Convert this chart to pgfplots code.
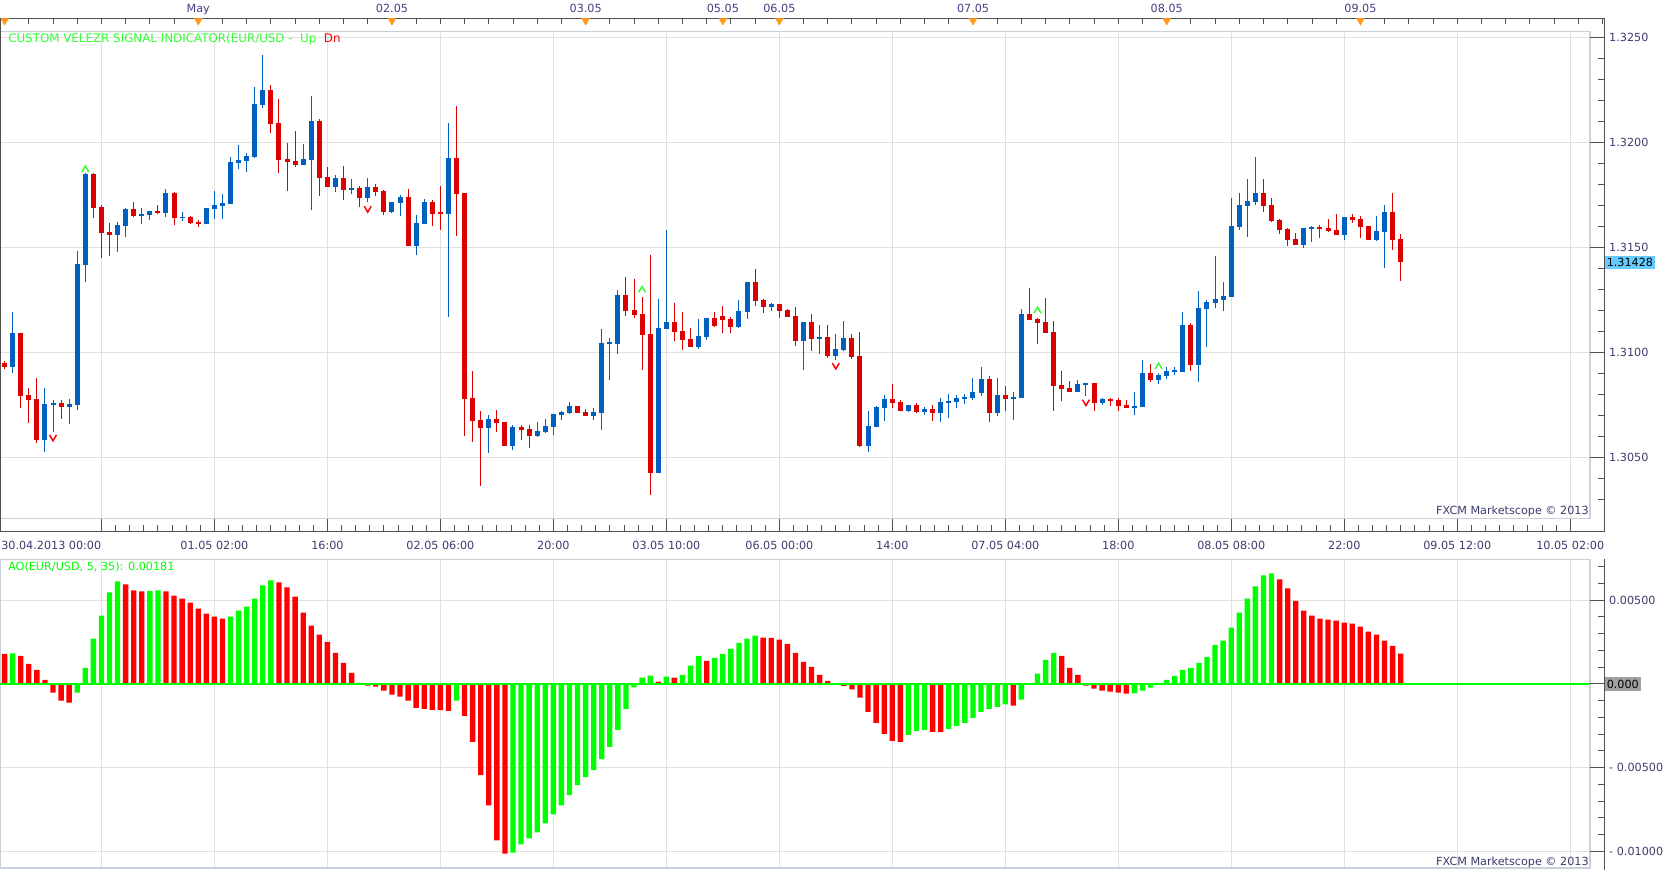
\documentclass[border=0pt]{standalone}
\usepackage{pgfplots}
\pgfplotsset{compat=1.18}
\usepackage{pgfplotstable}
\usepackage{fontspec}
\setmainfont{DejaVu Sans}
\definecolor{cblue}{HTML}{0060C0}
\definecolor{cred}{HTML}{DD0000}
\definecolor{aogreen}{HTML}{00FF00}
\definecolor{aored}{HTML}{FF0000}
\definecolor{gridc}{HTML}{E0E0E0}
\definecolor{borderc}{HTML}{C8D0DC}
\definecolor{axisc}{HTML}{505050}
\definecolor{labc}{HTML}{3C3C6E}
\definecolor{dayc}{HTML}{4B3C82}
\definecolor{orangec}{HTML}{FF9A1A}
\definecolor{pricebox}{HTML}{66CCFF}
\definecolor{zerobox}{HTML}{A0A0A0}
\definecolor{titlegreen}{HTML}{33FF33}

\pgfdeclareplotmark{chevup}{%
  \pgfpathmoveto{\pgfqpoint{-\pgfplotmarksize}{-0.7\pgfplotmarksize}}%
  \pgfpathlineto{\pgfqpoint{0pt}{\pgfplotmarksize}}%
  \pgfpathlineto{\pgfqpoint{\pgfplotmarksize}{-0.7\pgfplotmarksize}}%
  \pgfusepathqstroke}
\pgfdeclareplotmark{chevdown}{%
  \pgfpathmoveto{\pgfqpoint{-\pgfplotmarksize}{0.7\pgfplotmarksize}}%
  \pgfpathlineto{\pgfqpoint{0pt}{-\pgfplotmarksize}}%
  \pgfpathlineto{\pgfqpoint{\pgfplotmarksize}{0.7\pgfplotmarksize}}%
  \pgfusepathqstroke}

% up (blue) candles: index open high low close
\pgfplotstableread{
i o h l c
1 1.30932 1.31192 1.30903 1.31092
5 1.30584 1.30829 1.30527 1.30754
6 1.30751 1.30773 1.30622 1.30759
8 1.30741 1.30778 1.30659 1.30754
9 1.30751 1.31483 1.30725 1.31421
10 1.31416 1.31855 1.31337 1.31849
14 1.31560 1.31621 1.31479 1.31606
15 1.31603 1.31689 1.31551 1.31683
17 1.31651 1.31689 1.31613 1.31659
18 1.31656 1.31671 1.31632 1.31671
20 1.31665 1.31778 1.31646 1.31759
22 1.31639 1.31668 1.31625 1.31644
25 1.31613 1.31687 1.31613 1.31687
26 1.31684 1.31768 1.31635 1.31702
27 1.31698 1.31756 1.31635 1.31711
28 1.31708 1.31930 1.31708 1.31906
29 1.31903 1.31987 1.31875 1.31916
30 1.31913 1.31948 1.31860 1.31935
31 1.31930 1.32263 1.31925 1.32183
32 1.32179 1.32416 1.32165 1.32249
37 1.31892 1.31992 1.31892 1.31921
38 1.31917 1.32221 1.31678 1.32102
41 1.31789 1.31844 1.31763 1.31830
43 1.31775 1.31825 1.31754 1.31783
45 1.31737 1.31830 1.31716 1.31787
48 1.31668 1.31716 1.31663 1.31716
49 1.31711 1.31749 1.31649 1.31740
51 1.31506 1.31656 1.31463 1.31616
52 1.31611 1.31730 1.31611 1.31716
55 1.31659 1.32092 1.31170 1.31925
60 1.30641 1.30702 1.30522 1.30683
63 1.30556 1.30654 1.30537 1.30644
66 1.30603 1.30668 1.30598 1.30625
67 1.30622 1.30683 1.30617 1.30649
68 1.30646 1.30706 1.30606 1.30706
69 1.30703 1.30721 1.30678 1.30716
70 1.30713 1.30763 1.30708 1.30744
73 1.30698 1.30735 1.30678 1.30716
74 1.30713 1.31111 1.30630 1.31044
75 1.31040 1.31068 1.30868 1.31044
76 1.31040 1.31297 1.30992 1.31273
81 1.30427 1.31254 1.30427 1.31116
82 1.31113 1.31583 1.31113 1.31144
86 1.31027 1.31159 1.31017 1.31078
87 1.31075 1.31163 1.31060 1.31163
91 1.31121 1.31249 1.31116 1.31197
92 1.31192 1.31335 1.31159 1.31335
95 1.31216 1.31235 1.31197 1.31230
99 1.31056 1.31144 1.30916 1.31144
101 1.31065 1.31130 1.30992 1.31073
103 1.30984 1.31087 1.30963 1.31016
104 1.31013 1.31149 1.31008 1.31068
107 1.30556 1.30721 1.30527 1.30649
108 1.30644 1.30744 1.30644 1.30740
109 1.30735 1.30797 1.30673 1.30778
112 1.30721 1.30749 1.30716 1.30749
114 1.30716 1.30740 1.30702 1.30730
116 1.30711 1.30783 1.30668 1.30763
117 1.30759 1.30802 1.30687 1.30768
118 1.30763 1.30797 1.30735 1.30783
119 1.30778 1.30802 1.30754 1.30787
120 1.30783 1.30878 1.30773 1.30811
121 1.30806 1.30930 1.30792 1.30873
123 1.30711 1.30878 1.30697 1.30797
125 1.30778 1.30811 1.30678 1.30787
126 1.30783 1.31206 1.30783 1.31183
133 1.30811 1.30868 1.30811 1.30849
134 1.30844 1.30854 1.30792 1.30854
136 1.30759 1.30783 1.30749 1.30778
140 1.30735 1.30811 1.30702 1.30744
141 1.30740 1.30963 1.30740 1.30902
143 1.30870 1.30902 1.30851 1.30892
144 1.30889 1.30930 1.30875 1.30911
145 1.30908 1.30930 1.30894 1.30913
146 1.30908 1.31192 1.30908 1.31130
148 1.30941 1.31292 1.30860 1.31211
149 1.31208 1.31249 1.31027 1.31240
150 1.31237 1.31459 1.31211 1.31254
151 1.31251 1.31335 1.31197 1.31268
152 1.31263 1.31735 1.31263 1.31602
153 1.31597 1.31759 1.31583 1.31702
154 1.31697 1.31825 1.31549 1.31721
155 1.31716 1.31930 1.31702 1.31759
161 1.31511 1.31592 1.31497 1.31592
162 1.31587 1.31602 1.31525 1.31597
166 1.31559 1.31644 1.31535 1.31644
170 1.31535 1.31649 1.31530 1.31578
171 1.31573 1.31702 1.31402 1.31668
}\upc

% down (red) candles
\pgfplotstableread{
i o h l c
0 1.30951 1.30959 1.30921 1.30929
2 1.31092 1.31092 1.30737 1.30792
3 1.30797 1.30829 1.30662 1.30775
4 1.30778 1.30876 1.30570 1.30584
7 1.30759 1.30773 1.30683 1.30741
11 1.31849 1.31852 1.31641 1.31689
12 1.31692 1.31702 1.31451 1.31570
13 1.31573 1.31616 1.31460 1.31560
16 1.31683 1.31716 1.31644 1.31651
19 1.31673 1.31702 1.31657 1.31663
21 1.31759 1.31762 1.31608 1.31641
23 1.31644 1.31648 1.31613 1.31617
24 1.31622 1.31629 1.31598 1.31613
33 1.32249 1.32273 1.32044 1.32089
34 1.32092 1.32206 1.31856 1.31917
35 1.31921 1.31995 1.31770 1.31908
36 1.31911 1.32054 1.31884 1.31892
39 1.32102 1.32111 1.31744 1.31832
40 1.31835 1.31883 1.31789 1.31789
42 1.31830 1.31887 1.31725 1.31775
44 1.31783 1.31794 1.31694 1.31737
46 1.31787 1.31802 1.31744 1.31765
47 1.31768 1.31773 1.31656 1.31668
50 1.31740 1.31778 1.31506 1.31506
53 1.31716 1.31725 1.31602 1.31659
54 1.31663 1.31794 1.31583 1.31659
56 1.31925 1.32173 1.31554 1.31754
57 1.31759 1.31759 1.30603 1.30779
58 1.30783 1.30911 1.30575 1.30675
59 1.30678 1.30721 1.30365 1.30641
61 1.30683 1.30725 1.30622 1.30665
62 1.30668 1.30668 1.30556 1.30556
64 1.30644 1.30654 1.30584 1.30632
65 1.30635 1.30654 1.30546 1.30603
71 1.30744 1.30744 1.30713 1.30713
72 1.30716 1.30730 1.30698 1.30698
77 1.31273 1.31359 1.31173 1.31198
78 1.31202 1.31349 1.31163 1.31178
79 1.31183 1.31263 1.30916 1.31083
80 1.31087 1.31463 1.30321 1.30427
83 1.31144 1.31235 1.31056 1.31098
84 1.31102 1.31192 1.31013 1.31060
85 1.31063 1.31116 1.31027 1.31027
88 1.31163 1.31192 1.31121 1.31125
89 1.31173 1.31221 1.31094 1.31154
90 1.31159 1.31168 1.31094 1.31121
93 1.31335 1.31397 1.31221 1.31244
94 1.31249 1.31254 1.31187 1.31216
96 1.31230 1.31230 1.31163 1.31197
97 1.31202 1.31206 1.31168 1.31168
98 1.31173 1.31216 1.31032 1.31056
100 1.31144 1.31183 1.31008 1.31065
102 1.31073 1.31130 1.30975 1.30984
105 1.31068 1.31087 1.30970 1.30979
106 1.30983 1.31097 1.30548 1.30556
110 1.30778 1.30849 1.30735 1.30759
111 1.30763 1.30773 1.30721 1.30721
113 1.30749 1.30759 1.30711 1.30716
115 1.30730 1.30749 1.30673 1.30711
122 1.30873 1.30887 1.30668 1.30711
124 1.30797 1.30840 1.30721 1.30778
127 1.31183 1.31306 1.31154 1.31154
128 1.31159 1.31163 1.31040 1.31140
129 1.31144 1.31259 1.31092 1.31092
130 1.31097 1.31149 1.30721 1.30840
131 1.30844 1.30911 1.30768 1.30825
132 1.30830 1.30863 1.30811 1.30811
135 1.30854 1.30854 1.30721 1.30759
137 1.30778 1.30783 1.30744 1.30768
138 1.30773 1.30783 1.30721 1.30744
139 1.30749 1.30773 1.30735 1.30735
142 1.30902 1.30944 1.30860 1.30870
147 1.31130 1.31140 1.30913 1.30941
156 1.31759 1.31825 1.31668 1.31697
157 1.31702 1.31735 1.31621 1.31625
158 1.31630 1.31635 1.31563 1.31583
159 1.31587 1.31592 1.31506 1.31535
160 1.31540 1.31568 1.31511 1.31511
163 1.31597 1.31606 1.31544 1.31587
164 1.31592 1.31635 1.31573 1.31578
165 1.31583 1.31659 1.31559 1.31559
167 1.31644 1.31659 1.31616 1.31630
168 1.31635 1.31649 1.31544 1.31597
169 1.31602 1.31602 1.31535 1.31535
172 1.31668 1.31759 1.31487 1.31535
173 1.31540 1.31563 1.31340 1.31428
}\downc

% AO rising (green)
\pgfplotstableread{
i v
1 0.00182
9 -0.00052
10 0.00096
11 0.00270
12 0.00408
13 0.00546
14 0.00612
18 0.00554
19 0.00558
28 0.00402
29 0.00438
30 0.00462
31 0.00510
32 0.00588
33 0.00618
56 -0.00100
63 -0.01006
64 -0.00958
65 -0.00922
66 -0.00886
67 -0.00832
68 -0.00778
69 -0.00724
70 -0.00664
71 -0.00604
72 -0.00556
73 -0.00514
74 -0.00448
75 -0.00376
76 -0.00274
77 -0.00148
78 -0.00020
79 0.00038
80 0.00050
82 0.00044
84 0.00054
85 0.00110
86 0.00168
88 0.00156
89 0.00180
90 0.00210
91 0.00246
92 0.00270
93 0.00288
112 -0.00304
113 -0.00280
114 -0.00274
117 -0.00268
118 -0.00250
119 -0.00232
120 -0.00202
121 -0.00166
122 -0.00148
123 -0.00136
124 -0.00122
126 -0.00094
127 0.00004
128 0.00062
129 0.00144
130 0.00186
140 -0.00056
141 -0.00040
142 -0.00022
143 0.00006
144 0.00024
145 0.00048
146 0.00084
147 0.00096
148 0.00126
149 0.00162
150 0.00234
151 0.00258
152 0.00336
153 0.00426
154 0.00510
155 0.00582
156 0.00648
157 0.00660
}\aoup

% AO falling (red)
\pgfplotstableread{
i v
0 0.00180
2 0.00168
3 0.00120
4 0.00084
5 0.00024
6 -0.00052
7 -0.00100
8 -0.00112
15 0.00594
16 0.00558
17 0.00552
20 0.00552
21 0.00528
22 0.00510
23 0.00486
24 0.00450
25 0.00420
26 0.00402
27 0.00390
34 0.00606
35 0.00576
36 0.00522
37 0.00426
38 0.00348
39 0.00294
40 0.00252
41 0.00186
42 0.00126
43 0.00066
44 0.00006
45 -0.00010
46 -0.00016
47 -0.00040
48 -0.00064
49 -0.00076
50 -0.00100
51 -0.00142
52 -0.00148
53 -0.00154
54 -0.00156
55 -0.00160
57 -0.00190
58 -0.00346
59 -0.00544
60 -0.00724
61 -0.00934
62 -0.01012
81 0.00014
83 0.00038
87 0.00138
94 0.00276
95 0.00275
96 0.00264
97 0.00240
98 0.00186
99 0.00132
100 0.00102
101 0.00054
102 0.00018
103 -0.00006
104 -0.00012
105 -0.00032
106 -0.00082
107 -0.00166
108 -0.00232
109 -0.00298
110 -0.00340
111 -0.00346
115 -0.00286
116 -0.00287
125 -0.00130
131 0.00168
132 0.00096
133 0.00054
134 -0.00010
135 -0.00028
136 -0.00040
137 -0.00046
138 -0.00052
139 -0.00058
158 0.00624
159 0.00570
160 0.00494
161 0.00438
162 0.00408
163 0.00390
164 0.00384
165 0.00378
166 0.00366
167 0.00360
168 0.00342
169 0.00312
170 0.00294
171 0.00258
172 0.00228
173 0.00181
}\aodown

\pgfplotsset{
  fx/.style={tick label style={font=\fontsize{8.4}{10}\selectfont}, scaled ticks=false},
  wick/.style={draw=none, mark=none, forget plot,
    error bars/.cd, y dir=plus, y explicit, error mark=none,
    error bar style={line width=0.75pt, draw=#1, solid}},
  body/.style={draw=none, mark=none, forget plot,
    error bars/.cd, y dir=plus, y explicit, error mark=none,
    error bar style={line width=3.75pt, draw=#1, solid}},
}

\begin{document}
\begin{tikzpicture}[font=\fontsize{8.4}{10}\selectfont]
\begin{scope}[x=0.75pt, y=0.75pt]
\fill[white] (0,0) rectangle (1663,870);
\end{scope}

% ---------- top date strip ----------
\begin{axis}[fx,
  at={(0pt,628.725pt)}, anchor=south west, scale only axis,
  width=1203.4pt, height=10.05pt,
  xmin=-0.570, xmax=198.25, ymin=0, ymax=13.4,
  axis x line=top, axis y line=none,
  x axis line style={draw=axisc, line width=0.75pt, -},
  xtick={24,48,72,89,96,120,144,168},
  xticklabels={May,02.05,03.05,05.05,06.05,07.05,08.05,09.05},
  minor xtick={0,3,...,198},
  tick align=inside, major tick length=0pt, minor tick length=4.5pt,
  minor tick style={draw=axisc, line width=0.75pt},
  xticklabel style={text=dayc, yshift=1pt, text height=6.2pt, text depth=0pt},
  clip=false]
\addplot[only marks, mark=triangle*, mark size=3.4pt,
  mark options={rotate=180, fill=orangec, draw=orangec}]
  coordinates {(0,11.15) (24,11.15) (48,11.15) (72,11.15) (89,11.15) (96,11.15) (120,11.15) (144,11.15) (168,11.15)};
\end{axis}

% ---------- price panel ----------
\begin{axis}[fx,
  at={(0pt,263.55pt)}, anchor=south west, scale only axis,
  width=1192.5pt, height=365.2pt,
  xmin=-0.570, xmax=196.46, ymin=1.30208, ymax=1.32527,
  xtick={12,26,...,194}, ytick={1.305,1.31,1.315,1.32,1.325},
  xticklabels={}, yticklabels={}, major tick length=0pt,
  grid=major, major grid style={draw=gridc, line width=0.75pt},
  axis line style={draw=borderc, line width=1.2pt}]
\addplot[wick=cblue] table[x=i, y=l, y error plus expr=\thisrow{h}-\thisrow{l}] {\upc};
\addplot[body=cblue] table[x=i, y=o, y error plus expr={max(\thisrow{c}-\thisrow{o},0.00007)}] {\upc};
\addplot[wick=cred] table[x=i, y=l, y error plus expr=\thisrow{h}-\thisrow{l}] {\downc};
\addplot[body=cred] table[x=i, y=c, y error plus expr={max(\thisrow{o}-\thisrow{c},0.00007)}] {\downc};
\addplot[only marks, mark=chevup, mark size=2.6pt, mark options={draw=titlegreen, line width=1.1pt}]
  coordinates {(10,1.31871) (79,1.31297) (128,1.31198) (143,1.30932)};
\addplot[only marks, mark=chevdown, mark size=2.6pt, mark options={draw=aored, line width=1.1pt}]
  coordinates {(6,1.30595) (45,1.31684) (103,1.30937) (134,1.30763)};
\end{axis}

% ---------- time axis between panels ----------
\begin{axis}[fx,
  at={(0pt,253.95pt)}, anchor=south west, scale only axis,
  width=1203.4pt, height=9.6pt,
  xmin=-0.570, xmax=198.25, ymin=0, ymax=1,
  axis x line=bottom, axis y line=none,
  x axis line style={draw=axisc, line width=0.75pt, -},
  xtick={12,26,...,194},
  xticklabels={,01.05 02:00,16:00,02.05 06:00,20:00,03.05 10:00,06.05 00:00,14:00,07.05 04:00,18:00,08.05 08:00,22:00,09.05 12:00,10.05 02:00},
  minor x tick num=7,
  tick align=inside, major tick length=9pt, minor tick length=4.5pt,
  tick style={draw=axisc, line width=0.75pt},
  xticklabel style={text=labc, yshift=-4pt},
  extra x ticks={0}, extra x tick labels={30.04.2013 00:00},
  extra x tick style={major tick length=0pt, xticklabel style={anchor=north west, xshift=-6pt}}]
\end{axis}

% ---------- AO panel ----------
\begin{axis}[fx,
  at={(0pt,1.5pt)}, anchor=south west, scale only axis,
  width=1192.5pt, height=231.5pt,
  xmin=-0.570, xmax=196.46, ymin=-0.010985, ymax=0.00744,
  xtick={12,26,...,194}, ytick={-0.01,-0.005,0,0.005},
  xticklabels={}, yticklabels={}, major tick length=0pt,
  grid=major, major grid style={draw=gridc, line width=0.75pt},
  axis line style={draw=borderc, line width=1.2pt}]
\addplot[ybar, bar width=4pt, bar shift=0pt, fill=aored, draw=none] table[x=i, y=v] {\aodown};
\addplot[ybar, bar width=4pt, bar shift=0pt, fill=aogreen, draw=none] table[x=i, y=v] {\aoup};
\addplot[aogreen, line width=1.5pt] coordinates {(-0.57,0) (196.46,0)};
\end{axis}

% ---------- right price scale ----------
\begin{axis}[fx,
  at={(1192.5pt,263.55pt)}, anchor=south west, scale only axis,
  width=10.875pt, height=365.2pt,
  xmin=0, xmax=1, ymin=1.30208, ymax=1.32527,
  axis x line=none, axis y line*=right,
  y axis line style={draw=axisc, line width=0.75pt, -},
  ytick={1.305,1.31,1.315,1.32,1.325},
  yticklabels={1.3050,1.3100,1.3150,1.3200,1.3250},
  minor ytick={1.303,1.304,1.306,1.307,1.308,1.309,1.311,1.312,1.313,1.314,1.316,1.317,1.318,1.319,1.321,1.322,1.323,1.324},
  tick align=inside, major tick length=10.875pt, minor tick length=5pt,
  tick style={draw=axisc, line width=0.75pt},
  yticklabel style={text=labc},
  extra y ticks={1.31428}, extra y tick labels={1.31428},
  extra y tick style={major tick length=0pt, yticklabel style={fill=pricebox, text=black, inner xsep=1.5pt, inner ysep=2pt}}]
\end{axis}

% ---------- right AO scale ----------
\begin{axis}[fx,
  at={(1192.5pt,1.5pt)}, anchor=south west, scale only axis,
  width=10.875pt, height=231.5pt,
  xmin=0, xmax=1, ymin=-0.010985, ymax=0.00744,
  axis x line=none, axis y line*=right,
  y axis line style={draw=axisc, line width=0.75pt, -},
  ytick={-0.01,-0.005,0.005},
  yticklabels={- 0.01000,- 0.00500,0.00500},
  minor ytick={-0.009,-0.008,-0.007,-0.006,-0.004,-0.003,-0.002,-0.001,0.001,0.002,0.003,0.004,0.006,0.007},
  tick align=inside, major tick length=10.875pt, minor tick length=5pt,
  tick style={draw=axisc, line width=0.75pt},
  yticklabel style={text=labc},
  extra y ticks={0}, extra y tick labels={0.000},
  extra y tick style={yticklabel style={fill=zerobox, text=black, inner xsep=1.5pt, inner ysep=2pt}}]
\end{axis}

\begin{scope}[x=0.75pt, y=0.75pt]
% axis line extensions and frame edge
\draw[axisc, line width=0.75pt] (1604.5,338.6) -- (1604.5,851.7);
\draw[axisc, line width=0.75pt] (1604.5,0) -- (1604.5,310.7);
\draw[axisc, line width=0.75pt] (0.5,338.6) -- (0.5,851.7);
% texts
\node[anchor=west, inner sep=0pt, font=\fontsize{8.9}{10}\selectfont] at (8,831) {\textcolor{titlegreen}{CUSTOM VELEZR SIGNAL INDICATOR(EUR/USD -\ \ Up}\ \ \textcolor{aored}{Dn}};
\node[anchor=west, inner sep=0pt, text=aogreen] at (8,303) {AO(EUR/USD, 5, 35): 0.00181};
\node[anchor=east, inner sep=0pt, text=labc] at (1589,358.2) {FXCM Marketscope © 2013};
\node[anchor=east, inner sep=0pt, text=labc] at (1589,7.7) {FXCM Marketscope © 2013};
\end{scope}

\pgfresetboundingbox
\begin{scope}[x=0.75pt, y=0.75pt]
\useasboundingbox (0,0) rectangle (1663,870);
\end{scope}
\end{tikzpicture}
\end{document}
